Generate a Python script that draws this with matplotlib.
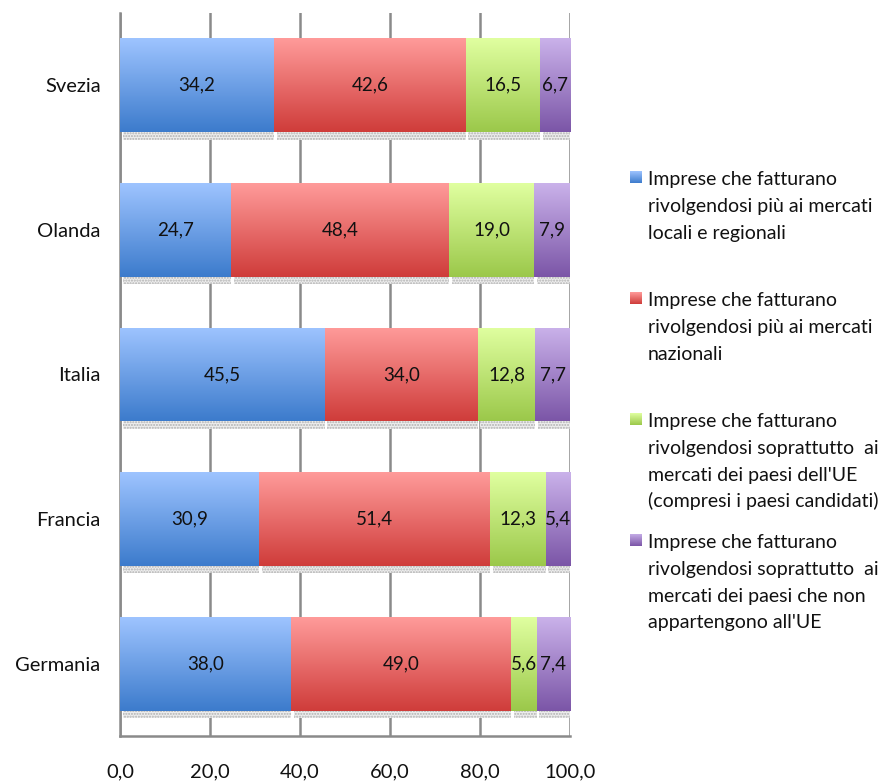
import numpy as np
import matplotlib
matplotlib.use("Agg")
import matplotlib.pyplot as plt
from matplotlib.colors import LinearSegmentedColormap
from matplotlib.ticker import FuncFormatter

plt.rcParams['font.family'] = ['Lato', 'DejaVu Sans']

countries = ["Svezia", "Olanda", "Italia", "Francia", "Germania"]
series_labels = [
    "Imprese che fatturano\nrivolgendosi più ai mercati\nlocali e regionali",
    "Imprese che fatturano\nrivolgendosi più ai mercati\nnazionali",
    "Imprese che fatturano\nrivolgendosi soprattutto  ai\nmercati dei paesi dell'UE\n(compresi i paesi candidati)",
    "Imprese che fatturano\nrivolgendosi soprattutto  ai\nmercati dei paesi che non\nappartengono all'UE",
]
local_regional = [34.2, 24.7, 45.5, 30.9, 38.0]
national = [42.6, 48.4, 34.0, 51.4, 49.0]
eu = [16.5, 19.0, 12.8, 12.3, 5.6]
non_eu = [6.7, 7.9, 7.7, 5.4, 7.4]
series_values = [local_regional, national, eu, non_eu]
xticks = [0, 20, 40, 60, 80, 100]

grad_colors = [("#9ec4ff", "#3c7bcc"),
               ("#ff9b9a", "#cf3c3a"),
               ("#e0ffa0", "#9bc84a"),
               ("#cab2ea", "#7b55a7")]

plt.rcParams['hatch.linewidth'] = 1.0

W, H = 895, 783
fig = plt.figure(figsize=(W / 100, H / 100), dpi=100)
ax = fig.add_axes([120 / W, 47 / H, 450 / W, 723 / H])

ypos = np.arange(len(countries))
bar_h = 0.65
lefts = np.zeros(len(countries))
grad = np.linspace(0, 1, 256).reshape(-1, 1)

for vals, (c_top, c_bot) in zip(series_values, grad_colors):
    vals = np.array(vals)
    # shadow
    ax.barh(ypos + 0.05, vals - 0.6, left=lefts + 0.6, height=bar_h,
            facecolor="#eeeeee", edgecolor="#b0b0b0", linewidth=0,
            hatch="......", zorder=2)
    bars = ax.barh(ypos, vals, left=lefts, height=bar_h,
                   facecolor="none", edgecolor="none", zorder=3)
    cmap = LinearSegmentedColormap.from_list("g", [c_top, c_bot])
    for b in bars:
        x0, y0, w, h = b.get_x(), b.get_y(), b.get_width(), b.get_height()
        im = ax.imshow(grad, cmap=cmap, aspect="auto",
                       extent=[x0, x0 + w, y0 + h, y0], origin="upper",
                       zorder=3, interpolation="bilinear")
        im.set_clip_path(b)
    for y, v, l in zip(ypos, vals, lefts):
        ax.text(l + v / 2, y, f"{v:.1f}".replace(".", ","), ha="center",
                va="center", fontsize=13.5, color="#111111", zorder=5)
    lefts = lefts + vals

ax.set_xlim(0, 100)
ax.set_ylim(len(countries) - 0.5, -0.5)
ax.set_xticks(xticks)
ax.xaxis.set_major_formatter(FuncFormatter(lambda v, p: f"{v:.1f}".replace(".", ",")))
ax.set_yticks(ypos)
ax.set_yticklabels(countries)
ax.tick_params(axis="y", length=0, pad=14, labelsize=14.5, labelcolor="#111111")
ax.tick_params(axis="x", length=0, pad=20, labelsize=14.5, labelcolor="#111111")
ax.grid(axis="x", color="#8a8a8a", linewidth=1.8, zorder=0)
ax.set_axisbelow(True)
for s in ["top", "right"]:
    ax.spines[s].set_visible(False)
for s in ["left", "bottom"]:
    ax.spines[s].set_color("#8a8a8a")
    ax.spines[s].set_linewidth(1.8)

# legend
first_baseline = 185
entry_step = 121
line_step = 26.8
for i, (lab, (c_top, c_bot)) in enumerate(zip(series_labels, grad_colors)):
    base = first_baseline + i * entry_step
    sq = fig.add_axes([630 / W, 1 - (base - 2) / H, 12 / W, 12 / H])
    sq.imshow(grad, cmap=LinearSegmentedColormap.from_list("g", [c_top, c_bot]),
              aspect="auto", extent=[0, 1, 0, 1])
    sq.axis("off")
    for j, line in enumerate(lab.split("\n")):
        fig.text(648 / W, 1 - (base + j * line_step) / H, line,
                 ha="left", va="baseline", fontsize=14, color="#111111")

fig.savefig("out.png", dpi=100)
